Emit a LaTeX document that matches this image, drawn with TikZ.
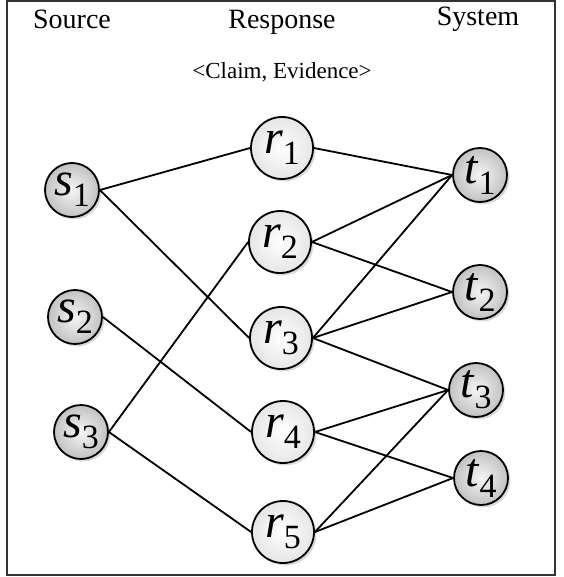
\documentclass[tikz,border=0pt]{standalone}
\usepackage{fontspec}
\setmainfont{Liberation Serif}
\usetikzlibrary{shadows}
\tikzset{
  ball/.style={circle, draw=black, line width=0.9pt, inner sep=0pt,
    font=\fontsize{24}{26}\selectfont,
    drop shadow={shadow xshift=1.2pt, shadow yshift=-1.2pt, opacity=0.3}},
  srcnode/.style={ball, minimum size=27pt, shading=radial,
    inner color=gray!8, outer color=gray!48},
  resnode/.style={ball, minimum size=31pt, shading=radial,
    inner color=white, outer color=gray!20},
  sysnode/.style={srcnode},
  title/.style={font=\fontsize{14}{16}\selectfont},
  link/.style={line width=0.9pt}
}
\newcommand{\nlab}[2]{\textit{#1}\raisebox{-0.5ex}{\fontsize{17}{17}\selectfont #2}}

\begin{document}
\begin{tikzpicture}[x=0.5pt,y=-0.5pt]
\useasboundingbox (0,0) rectangle (563,577);
\draw[line width=0.6pt, color=black!80] (7,1) rectangle (555,575);
% column titles
\node[title] (hsrc) at (72,19) {Source};
\node[title] (hres) at (282,22) {Response};
\node[title] (hsys) at (478,19) {System};
\node[font=\fontsize{11.5}{13}\selectfont] (hce) at (282,72) {<Claim, Evidence>};
% sources
\node[srcnode] (s1) at (72,190) {\nlab{s}{1}};
\node[srcnode] (s2) at (75,317) {\nlab{s}{2}};
\node[srcnode] (s3) at (81,432) {\nlab{s}{3}};
% responses
\node[resnode] (r1) at (282,148) {\nlab{r}{1}};
\node[resnode] (r2) at (280,242) {\nlab{r}{2}};
\node[resnode] (r3) at (281,338) {\nlab{r}{3}};
\node[resnode] (r4) at (283,432) {\nlab{r}{4}};
\node[resnode] (r5) at (283,532) {\nlab{r}{5}};
% systems
\node[sysnode] (t1) at (480,175) {\nlab{t}{1}};
\node[sysnode] (t2) at (480,292) {\nlab{t}{2}};
\node[sysnode] (t3) at (476,390) {\nlab{t}{3}};
\node[sysnode] (t4) at (481,478) {\nlab{t}{4}};
% source -- response
\draw[link] (s1.east) -- (r1.west);
\draw[link] (s1.east) -- (r3.west);
\draw[link] (s2.east) -- (r4.west);
\draw[link] (s3.east) -- (r2.west);
\draw[link] (s3.east) -- (r5.west);
% response -- system
\draw[link] (r1.east) -- (t1.west);
\draw[link] (r2.east) -- (t1.west);
\draw[link] (r2.east) -- (t2.west);
\draw[link] (r3.east) -- (t1.west);
\draw[link] (r3.east) -- (t2.west);
\draw[link] (r3.east) -- (t3.west);
\draw[link] (r4.east) -- (t3.west);
\draw[link] (r4.east) -- (t4.west);
\draw[link] (r5.east) -- (t3.west);
\draw[link] (r5.east) -- (t4.west);
\end{tikzpicture}
\end{document}
